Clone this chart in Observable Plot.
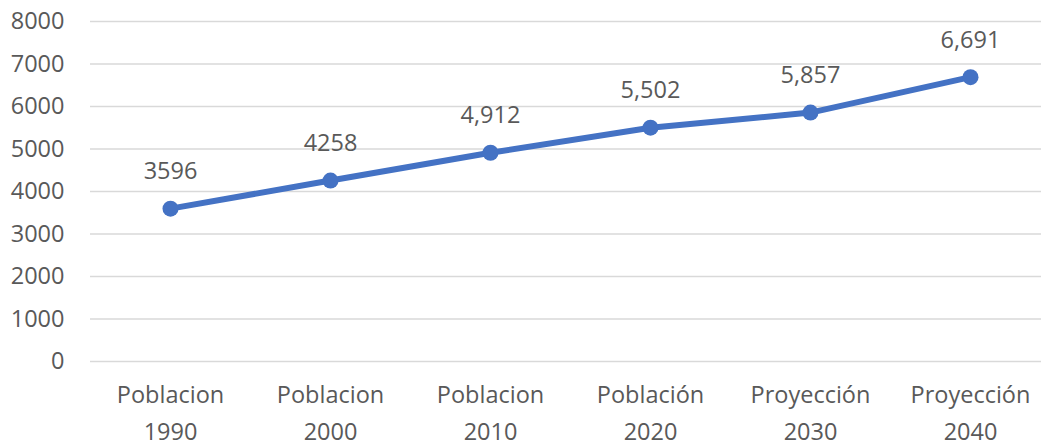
<!DOCTYPE html>
<html>
<head>
<meta charset="utf-8">
<script src="https://cdn.jsdelivr.net/npm/d3@7"></script>
<script src="https://cdn.jsdelivr.net/npm/@observablehq/plot@0.6"></script>
<style>
  html, body { margin: 0; padding: 0; background: #fff; }
  #chart svg { display: block; }
</style>
</head>
<body>
<div id="chart"></div>
<script>
const categories = ["Poblacion\n1990", "Poblacion\n2000", "Poblacion\n2010", "Población\n2020", "Proyección\n2030", "Proyección\n2040"];
const values = [3596, 4258, 4912, 5502, 5857, 6691];
const valueLabels = ["3596", "4258", "4,912", "5,502", "5,857", "6,691"];
const yTicks = [0, 1000, 2000, 3000, 4000, 5000, 6000, 7000, 8000];

const data = categories.map((c, i) => ({cat: c, value: values[i], label: valueLabels[i]}));

const chart = Plot.plot({
  width: 1041,
  height: 443,
  marginLeft: 90,
  marginRight: 0,
  marginTop: 21,
  marginBottom: 82,
  style: {fontFamily: "'Open Sans', sans-serif", fontSize: "23.5px", color: "#595959", background: "#fff"},
  x: {type: "point", domain: categories, range: [90, 1050], padding: 0.5, label: null},
  y: {domain: [0, 8000], label: null},
  marks: [
    Plot.ruleY(yTicks, {stroke: "#d9d9d9", strokeWidth: 1.5}),
    Plot.axisY(yTicks, {tickSize: 0, tickPadding: 26, label: null, fill: "#595959", fontSize: 23.5, tickFormat: d => String(d)}),
    Plot.axisX({tickSize: 0, tickPadding: 15, label: null, fill: "#595959", fontSize: 23.5, lineHeight: 1.57}),
    Plot.line(data, {x: "cat", y: "value", stroke: "#4472C4", strokeWidth: 6}),
    Plot.dot(data, {x: "cat", y: "value", r: 8, fill: "#4472C4", stroke: "none"}),
    Plot.text(data, {x: "cat", y: "value", text: "label", dy: -37, fontSize: 23.5, fill: "#595959"})
  ]
});
document.getElementById("chart").appendChild(chart);
</script>
</body>
</html>
